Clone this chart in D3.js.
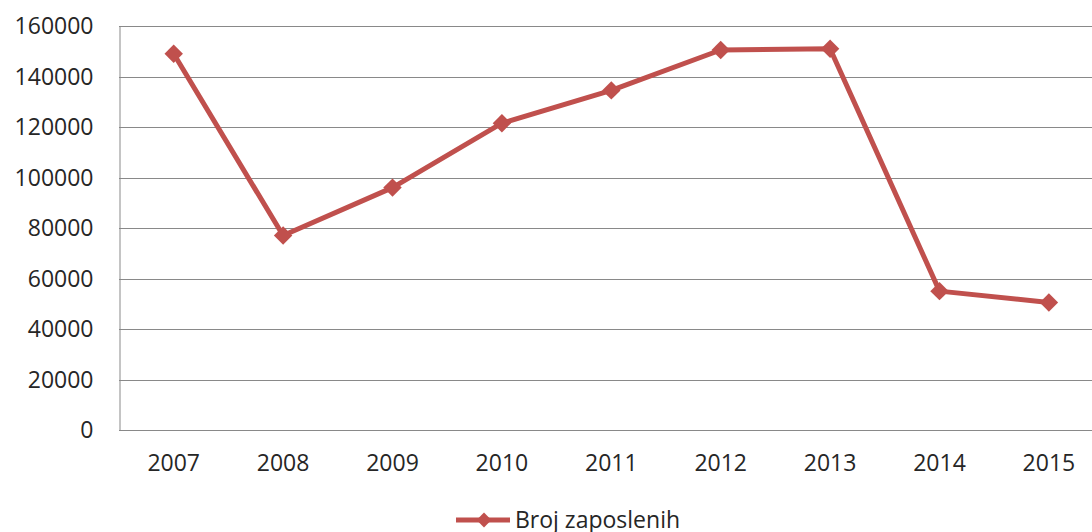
<!DOCTYPE html>
<html>
<head>
    <script src="https://d3js.org/d3.v7.min.js"></script>
    <style>
        body { margin: 0; background: #fff; }
        svg { display: block; overflow: hidden; }
        .tick text { font: 23px "Open Sans", sans-serif; fill: #262626; }
        .legend text { font: 23px "Open Sans", sans-serif; fill: #262626; }
    </style>
</head>
<body>
    <div id="chart"></div>
    <script>
        // Data
        const years = ['2007', '2008', '2009', '2010', '2011', '2012', '2013', '2014', '2015'];
        const employed = [149000, 77000, 96000, 121500, 134500, 150500, 151000, 55000, 50500];
        const yTicks = [0, 20000, 40000, 60000, 80000, 100000, 120000, 140000, 160000];
        const seriesName = 'Broj zaposlenih';

        const width = 1092;
        const height = 532;
        const plotLeft = 119, plotTop = 26, plotH = 404;
        const bandW = 109.4;

        const svg = d3.select('#chart').append('svg')
            .attr('width', width)
            .attr('height', height);

        const x = d3.scaleBand()
            .domain(years)
            .range([plotLeft, plotLeft + bandW * years.length]);

        const y = d3.scaleLinear()
            .domain([0, 160000])
            .range([plotTop + plotH, plotTop]);

        // gridlines
        svg.append('g')
            .selectAll('line')
            .data(yTicks)
            .join('line')
            .attr('x1', plotLeft)
            .attr('x2', plotLeft + bandW * years.length)
            .attr('y1', d => Math.round(y(d)) + 0.5)
            .attr('y2', d => Math.round(y(d)) + 0.5)
            .attr('stroke', '#898989')
            .attr('stroke-width', 1);

        // y axis
        const yAxis = svg.append('g')
            .attr('transform', `translate(${plotLeft + 0.5},0)`)
            .call(d3.axisLeft(y).tickValues(yTicks).tickSize(0).tickPadding(26).tickFormat(d3.format('d')));
        yAxis.select('.domain').attr('stroke', '#898989');
        yAxis.selectAll('.tick text').attr('dy', '0.34em');

        // x axis
        const xAxis = svg.append('g')
            .attr('transform', `translate(0,${Math.round(y(0)) + 0.5})`)
            .call(d3.axisBottom(x).tickSize(0).tickPadding(24));
        xAxis.select('.domain').remove();

        // line
        const line = d3.line()
            .x((d, i) => x(years[i]) + x.bandwidth() / 2)
            .y(d => y(d));

        svg.append('path')
            .datum(employed)
            .attr('fill', 'none')
            .attr('stroke', '#C0504D')
            .attr('stroke-width', 5)
            .attr('stroke-linejoin', 'round')
            .attr('d', line);

        const diamond = d3.symbol().type(d3.symbolSquare).size(170);

        svg.append('g')
            .selectAll('path')
            .data(employed)
            .join('path')
            .attr('d', diamond)
            .attr('fill', '#C0504D')
            .attr('transform', (d, i) => `translate(${x(years[i]) + x.bandwidth() / 2},${y(d)}) rotate(45)`);

        // legend
        const lg = svg.append('g').attr('class', 'legend').attr('transform', 'translate(0,520)');
        lg.append('line')
            .attr('x1', 456).attr('x2', 510)
            .attr('stroke', '#C0504D').attr('stroke-width', 5);
        lg.append('path')
            .attr('d', d3.symbol().type(d3.symbolSquare).size(110))
            .attr('fill', '#C0504D')
            .attr('transform', 'translate(484,0) rotate(45)');
        lg.append('text')
            .attr('x', 515)
            .attr('dy', '0.34em')
            .text(seriesName);
    </script>
</body>
</html>
